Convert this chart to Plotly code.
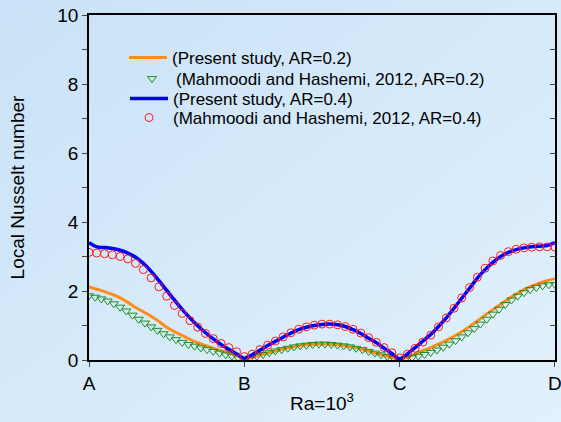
import numpy as np
import plotly.graph_objects as go

# ---------------- data ----------------
tick_positions = [0, 1, 2, 3]
tick_labels = ["A", "B", "C", "D"]

x_line = np.round(np.arange(0, 3.0001, 0.05), 3)
present_ar02 = [2.12, 2.05, 1.98, 1.90, 1.80, 1.67, 1.52, 1.40, 1.27, 1.12,
                0.95, 0.82, 0.71, 0.60, 0.50, 0.42, 0.34, 0.27, 0.20, 0.13,
                0.03,
                0.08, 0.14, 0.20, 0.26, 0.32, 0.37, 0.41, 0.44, 0.46, 0.46,
                0.46, 0.44, 0.41, 0.37, 0.32, 0.26, 0.19, 0.13, 0.07, 0.01,
                0.09, 0.18, 0.27, 0.36, 0.46, 0.57, 0.69, 0.82, 0.97, 1.13,
                1.30, 1.46, 1.61, 1.77, 1.91, 2.04, 2.14, 2.23, 2.30, 2.36]
present_ar04 = [3.40, 3.28, 3.26, 3.23, 3.18, 3.10, 2.98, 2.80, 2.57, 2.30,
                2.02, 1.74, 1.47, 1.22, 0.99, 0.79, 0.61, 0.45, 0.31, 0.18,
                0.05,
                0.15, 0.28, 0.42, 0.54, 0.66, 0.78, 0.88, 0.95, 1.00, 1.03,
                1.04, 1.02, 0.97, 0.88, 0.77, 0.63, 0.50, 0.34, 0.19, 0.03,
                0.18, 0.36, 0.55, 0.74, 0.97, 1.22, 1.50, 1.79, 2.08, 2.37,
                2.62, 2.83, 3.00, 3.12, 3.20, 3.25, 3.28, 3.30, 3.32, 3.40]

x_circ = np.round(np.arange(0, 3.0001, 0.05), 3)
mahmoodi_ar04 = [3.12, 3.10, 3.08, 3.05, 3.00, 2.93, 2.80, 2.62, 2.38, 2.12,
                 1.85, 1.58, 1.35, 1.14, 0.95, 0.77, 0.62, 0.48, 0.36, 0.24,
                 0.10,
                 0.17, 0.30, 0.43, 0.55, 0.67, 0.79, 0.89, 0.96, 1.01, 1.04,
                 1.04, 1.02, 0.97, 0.89, 0.78, 0.65, 0.51, 0.36, 0.21, 0.06,
                 0.17, 0.34, 0.52, 0.72, 0.96, 1.22, 1.50, 1.80, 2.10, 2.40,
                 2.66, 2.87, 3.03, 3.14, 3.21, 3.25, 3.27, 3.28, 3.28, 3.27]

x_tri = np.round(np.arange(0, 3.0001, 0.04), 3)
mahmoodi_ar02 = [1.86, 1.82, 1.77, 1.71, 1.63, 1.53, 1.42, 1.30, 1.18, 1.07,
                 0.96, 0.86, 0.76, 0.67, 0.59, 0.51, 0.45, 0.40, 0.35, 0.30,
                 0.25, 0.20, 0.15, 0.11, 0.06, 0.02,
                 0.06, 0.11, 0.16, 0.21, 0.26, 0.30, 0.34, 0.38, 0.41, 0.43,
                 0.45, 0.46, 0.46, 0.45, 0.43, 0.41, 0.38, 0.34, 0.30, 0.25,
                 0.20, 0.15, 0.10, 0.06, 0.02,
                 0.04, 0.07, 0.11, 0.16, 0.22, 0.29, 0.37, 0.46, 0.56, 0.67,
                 0.79, 0.91, 1.04, 1.18, 1.33, 1.47, 1.61, 1.74, 1.85, 1.95,
                 2.04, 2.10, 2.15, 2.18, 2.19]

# ---------------- figure ----------------
fig = go.Figure()
fig.add_trace(go.Scatter(x=x_line, y=present_ar02, mode="lines",
                         line=dict(color="#ff8c1a", width=3, shape="spline"),
                         name="(Present study, AR=0.2)", legend="legend"))
fig.add_trace(go.Scatter(x=x_tri, y=mahmoodi_ar02, mode="markers",
                         marker=dict(symbol="triangle-down-open", size=8,
                                     color="#1f8f1f", line=dict(width=1)),
                         name="(Mahmoodi and Hashemi, 2012, AR=0.2)",
                         legend="legend2"))
fig.add_trace(go.Scatter(x=x_line, y=present_ar04, mode="lines",
                         line=dict(color="#0000ff", width=3.5, shape="spline"),
                         name="(Present study, AR=0.4)", legend="legend3"))
fig.add_trace(go.Scatter(x=x_circ, y=mahmoodi_ar04, mode="markers",
                         marker=dict(symbol="circle-open", size=8,
                                     color="#ff1a1a", line=dict(width=1)),
                         name="(Mahmoodi and Hashemi, 2012, AR=0.4)",
                         legend="legend4"))
# invisible trace on right axis so it renders
fig.add_trace(go.Scatter(x=[0], y=[0], yaxis="y2", mode="markers",
                         marker=dict(opacity=0), showlegend=False,
                         hoverinfo="skip"))

bg_svg = ("data:image/svg+xml;utf8,"
          "<svg xmlns='http://www.w3.org/2000/svg' width='561' height='422'>"
          "<defs><linearGradient id='g' x1='0' y1='0' x2='1' y2='1'>"
          "<stop offset='0' stop-color='%23c9e2f7'/>"
          "<stop offset='1' stop-color='%23e2f1fc'/>"
          "</linearGradient></defs>"
          "<rect width='561' height='422' fill='url(%23g)'/></svg>")

font_family = "Liberation Sans, Arial, sans-serif"

# plot area: x 89..555, y 15..360
def px_x(p):
    return (p - 89) / 466.0

def px_y(p):
    return (360 - p) / 345.0

def leg(xp, yp):
    return dict(x=px_x(xp), y=px_y(yp), xanchor="left", yanchor="middle",
                bgcolor="rgba(0,0,0,0)", font=dict(size=17),
                itemwidth=38, borderwidth=0)

fig.update_layout(
    width=561, height=422,
    margin=dict(l=89, r=6, t=15, b=62, autoexpand=False),
    paper_bgcolor="#d6eaf9",
    plot_bgcolor="rgba(0,0,0,0)",
    font=dict(family=font_family, color="black", size=17),
    images=[dict(source=bg_svg, xref="paper", yref="paper",
                 x=-89 / 466, y=1 + 15 / 345, sizex=561 / 466, sizey=422 / 345,
                 xanchor="left", yanchor="top", sizing="stretch",
                 layer="below")],
    xaxis=dict(range=[0, 3.0001], tickvals=tick_positions,
               ticktext=tick_labels, ticklabeloverflow="allow",
               automargin=False,
               showline=True, linecolor="black", linewidth=1.5,
               mirror=True, ticks="outside", ticklen=5, tickwidth=1,
               showgrid=False, zeroline=False,
               tickfont=dict(size=19),
               title=dict(text="Ra=10<sup>3</sup>", font=dict(size=19),
                          standoff=4)),
    yaxis=dict(range=[0, 10], dtick=2, showline=True, linecolor="black",
               automargin=False,
               linewidth=1.5, ticks="outside", ticklen=5, tickwidth=1,
               minor=dict(dtick=1, ticks="outside", ticklen=5),
               showgrid=False, zeroline=False, tickfont=dict(size=19),
               title=dict(text="Local Nusselt number", font=dict(size=19),
                          standoff=28)),
    yaxis2=dict(range=[0, 10], dtick=2, overlaying="y", side="right",
                automargin=False,
                showline=True, linecolor="black", linewidth=1.5,
                ticks="inside", ticklen=5, tickwidth=1,
                minor=dict(dtick=1, ticks="inside", ticklen=5),
                showticklabels=False, showgrid=False, zeroline=False),
    legend=leg(124, 58),
    legend2=leg(128, 79),
    legend3=leg(125, 99),
    legend4=leg(125, 118),
    showlegend=True,
)

fig.write_html("out.html")
